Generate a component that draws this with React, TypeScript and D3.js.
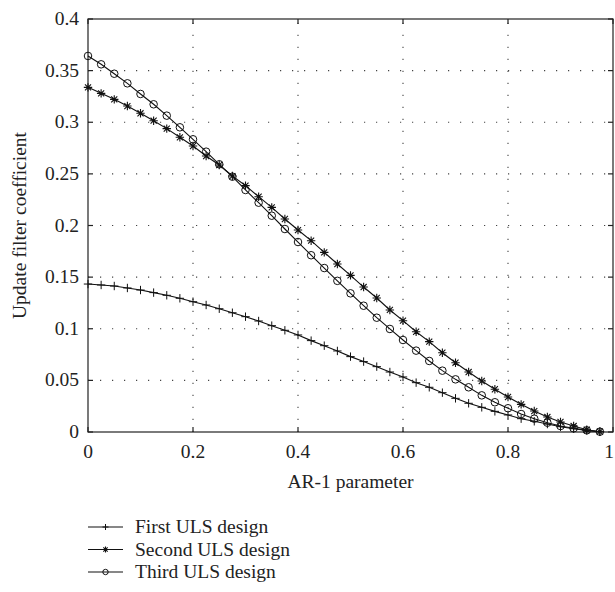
import React, { useEffect, useRef } from 'react';
import * as d3 from 'd3';

const W = 615;
const H = 592;

// AR-1 parameter values at the markers
const arParam = [
  0, 0.025, 0.05, 0.075, 0.1, 0.125, 0.15, 0.175, 0.2, 0.225,
  0.25, 0.275, 0.3, 0.325, 0.35, 0.375, 0.4, 0.425, 0.45, 0.475,
  0.5, 0.525, 0.55, 0.575, 0.6, 0.625, 0.65, 0.675, 0.7, 0.725,
  0.75, 0.775, 0.8, 0.825, 0.85, 0.875, 0.9, 0.925, 0.95, 0.975,
];

const firstUls = [
  0.1433, 0.1424, 0.1414, 0.1395, 0.1375, 0.135, 0.1324, 0.1295, 0.1262, 0.123,
  0.1194, 0.1155, 0.1117, 0.1075, 0.103, 0.0985, 0.094, 0.0885, 0.0836, 0.0785,
  0.073, 0.0682, 0.0633, 0.0581, 0.0533, 0.0478, 0.0433, 0.0381, 0.0326, 0.0278,
  0.0239, 0.02, 0.0165, 0.0129, 0.0104, 0.0077, 0.0051, 0.0032, 0.0016, 0.0003,
];

const secondUls = [
  0.3338, 0.328, 0.3222, 0.3157, 0.3087, 0.3015, 0.2938, 0.2854, 0.277, 0.2673,
  0.2586, 0.2479, 0.2386, 0.2279, 0.2176, 0.2063, 0.1956, 0.1853, 0.174, 0.1627,
  0.1517, 0.1404, 0.1298, 0.1182, 0.1078, 0.0971, 0.0875, 0.0768, 0.0671, 0.0581,
  0.0494, 0.0414, 0.0339, 0.0268, 0.0203, 0.0145, 0.0097, 0.0058, 0.0022, 0.0003,
];

const thirdUls = [
  0.3642, 0.3561, 0.347, 0.3377, 0.3274, 0.3174, 0.3064, 0.2951, 0.2835, 0.2715,
  0.2593, 0.2473, 0.2344, 0.2221, 0.2095, 0.1966, 0.184, 0.1712, 0.1588, 0.1464,
  0.1343, 0.1223, 0.1107, 0.0998, 0.0891, 0.0788, 0.0688, 0.0594, 0.051, 0.0433,
  0.0355, 0.0288, 0.023, 0.0174, 0.0129, 0.009, 0.0058, 0.0036, 0.0016, 0.0003,
];

const xTicks = [0, 0.2, 0.4, 0.6, 0.8, 1];
const yTicks = [0, 0.05, 0.1, 0.15, 0.2, 0.25, 0.3, 0.35, 0.4];

const seriesNames = ['First ULS design', 'Second ULS design', 'Third ULS design'];
const seriesMarkers = ['plus', 'star', 'circle'];

const FONT = '"Liberation Serif", "Times New Roman", serif';
const FS = 19.5;

type Sel = d3.Selection<SVGGElement, unknown, null, undefined>;

function drawMarker(g: Sel, kind: string, x: number, y: number, s: number) {
  if (kind === 'plus') {
    g.append('path')
      .attr('d', `M${x - s},${y}H${x + s}M${x},${y - s}V${y + s}`)
      .attr('stroke', '#111').attr('stroke-width', 1).attr('fill', 'none');
  } else if (kind === 'star') {
    const d = s * 0.72;
    g.append('path')
      .attr('d', `M${x - s},${y}H${x + s}M${x},${y - s}V${y + s}M${x - d},${y - d}L${x + d},${y + d}M${x - d},${y + d}L${x + d},${y - d}`)
      .attr('stroke', '#111').attr('stroke-width', 1.1).attr('fill', 'none');
  } else {
    g.append('circle')
      .attr('cx', x).attr('cy', y).attr('r', s * 0.9)
      .attr('stroke', '#111').attr('stroke-width', 1).attr('fill', 'none');
  }
}

const App = () => {
  const ref = useRef<SVGSVGElement>(null);

  useEffect(() => {
    const svg = d3.select(ref.current);
    svg.selectAll('*').remove();

    const left = 88, right = 613, top = 19, bottom = 432;
    const x = d3.scaleLinear().domain([0, 1]).range([left, right]);
    const y = d3.scaleLinear().domain([0, 0.4]).range([bottom, top]);

    const root = svg.append('g') as unknown as Sel;

    // dotted grid
    const grid = root.append('g').attr('stroke', '#444').attr('stroke-width', 1.1)
      .attr('stroke-dasharray', '1.2 10.8');
    xTicks.slice(1, -1).forEach(t => {
      grid.append('line').attr('x1', x(t)).attr('x2', x(t)).attr('y1', bottom).attr('y2', top);
    });
    yTicks.slice(1, -1).forEach(t => {
      grid.append('line').attr('x1', left).attr('x2', right).attr('y1', y(t)).attr('y2', y(t));
    });

    // frame and inward ticks
    root.append('rect')
      .attr('x', left).attr('y', top).attr('width', right - left).attr('height', bottom - top)
      .attr('fill', 'none').attr('stroke', '#222').attr('stroke-width', 1.2);
    const tk = 5;
    const ticks = root.append('g').attr('stroke', '#222').attr('stroke-width', 1.2);
    xTicks.forEach(t => {
      ticks.append('line').attr('x1', x(t)).attr('x2', x(t)).attr('y1', bottom).attr('y2', bottom - tk);
      ticks.append('line').attr('x1', x(t)).attr('x2', x(t)).attr('y1', top).attr('y2', top + tk);
    });
    yTicks.forEach(t => {
      ticks.append('line').attr('x1', left).attr('x2', left + tk).attr('y1', y(t)).attr('y2', y(t));
      ticks.append('line').attr('x1', right).attr('x2', right - tk).attr('y1', y(t)).attr('y2', y(t));
    });

    // tick labels
    const labels = root.append('g').attr('font-family', FONT).attr('font-size', FS).attr('fill', '#222');
    xTicks.forEach(t => {
      labels.append('text').attr('x', Math.min(x(t), W - 6)).attr('y', bottom + 26)
        .attr('text-anchor', 'middle').text(d3.format('~g')(t));
    });
    yTicks.forEach(t => {
      labels.append('text').attr('x', left - 9).attr('y', y(t) + 6)
        .attr('text-anchor', 'end').text(d3.format('~g')(t));
    });

    labels.append('text').attr('x', (left + right) / 2).attr('y', 488)
      .attr('text-anchor', 'middle').text('AR-1 parameter');
    labels.append('text')
      .attr('transform', `translate(26,${(top + bottom) / 2}) rotate(-90)`)
      .attr('text-anchor', 'middle').text('Update filter coefficient');

    // series
    const allSeries = [firstUls, secondUls, thirdUls];
    const line = d3.line<number>().x((_, i) => x(arParam[i])).y(v => y(v));
    allSeries.forEach((vals, si) => {
      const g = root.append('g') as unknown as Sel;
      g.append('path').attr('d', line(vals)).attr('fill', 'none')
        .attr('stroke', '#111').attr('stroke-width', 1.1);
      vals.forEach((v, i) => drawMarker(g, seriesMarkers[si], x(arParam[i]), y(v), 4.2));
    });

    // legend
    const leg = root.append('g');
    seriesNames.forEach((name, i) => {
      const ly = 527 + i * 22.5;
      leg.append('line').attr('x1', 88).attr('x2', 123).attr('y1', ly).attr('y2', ly)
        .attr('stroke', '#111').attr('stroke-width', 1.1);
      drawMarker(leg as unknown as Sel, seriesMarkers[i], 105.5, ly, 3);
      leg.append('text').attr('x', 135).attr('y', ly + 6)
        .attr('font-family', FONT).attr('font-size', FS).attr('fill', '#222').text(name);
    });
  }, []);

  return (
    <svg ref={ref} width={W} height={H}
      style={{ position: 'absolute', left: 0, top: 0, background: '#fff' }} />
  );
};

export default App;
